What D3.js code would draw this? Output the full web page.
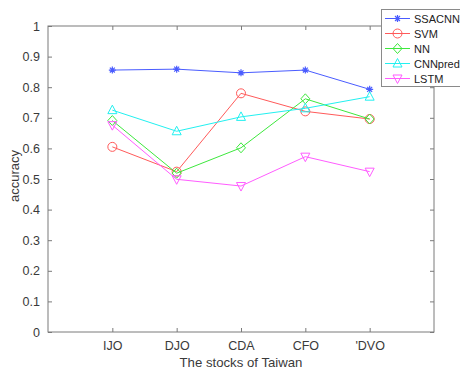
<!DOCTYPE html>
<html><head><meta charset="utf-8">
<script src="https://cdn.jsdelivr.net/npm/d3@7"></script>
<style>body{margin:0;background:#fff;}svg{display:block;font-family:"Liberation Sans",Arial,sans-serif;}</style>
</head><body>
<svg id="c" width="460" height="371"></svg>
<script>
const categories = ["IJO", "DJO", "CDA", "CFO", "'DVO"];
const seriesNames = ["SSACNN", "SVM", "NN", "CNNpred", "LSTM"];
const SSACNN = [0.856, 0.859, 0.847, 0.856, 0.793];
const SVM = [0.605, 0.524, 0.780, 0.721, 0.696];
const NN = [0.691, 0.519, 0.602, 0.762, 0.696];
const CNNpred = [0.725, 0.656, 0.703, 0.731, 0.769];
const LSTM = [0.676, 0.499, 0.477, 0.573, 0.524];
const yTicks = [0, 0.1, 0.2, 0.3, 0.4, 0.5, 0.6, 0.7, 0.8, 0.9, 1];

const series = [
  {name: seriesNames[0], values: SSACNN, color: "#4a5cff", marker: "star"},
  {name: seriesNames[1], values: SVM, color: "#ff5a5a", marker: "circle"},
  {name: seriesNames[2], values: NN, color: "#3de83d", marker: "diamond"},
  {name: seriesNames[3], values: CNNpred, color: "#22f0f0", marker: "triUp"},
  {name: seriesNames[4], values: LSTM, color: "#ff5cff", marker: "triDown"}
];

const svg = d3.select("#c");
const L = 48, R = 434, T = 26, B = 332;
const x = d3.scaleLinear().domain([0, 6]).range([L, R]);
const y = d3.scaleLinear().domain([0, 1]).range([B, T]);
const axisColor = "#7a7a7a";
const textColor = "#3a3a3a";

svg.append("rect").attr("x", L).attr("y", T).attr("width", R - L).attr("height", B - T)
  .attr("fill", "none").attr("stroke", axisColor).attr("stroke-width", 1);

const xt = categories.map((c, i) => i + 1);
const gx = svg.append("g").attr("transform", `translate(0,${B})`)
  .call(d3.axisBottom(x).tickValues(xt).tickFormat((d) => categories[d - 1]).tickSizeInner(-4).tickSizeOuter(0).tickPadding(9));
gx.select(".domain").remove();
gx.selectAll("line").attr("stroke", axisColor);
gx.selectAll("text").attr("fill", textColor).attr("font-size", 12.5);
const gxt = svg.append("g").attr("transform", `translate(0,${T})`)
  .call(d3.axisTop(x).tickValues(xt).tickFormat("").tickSizeInner(-4).tickSizeOuter(0));
gxt.select(".domain").remove();
gxt.selectAll("line").attr("stroke", axisColor);
const gy = svg.append("g").attr("transform", `translate(${L},0)`)
  .call(d3.axisLeft(y).tickValues(yTicks).tickFormat(d => d === 0 ? "0" : d === 1 ? "1" : d3.format(".1f")(d)).tickSizeInner(-4).tickSizeOuter(0).tickPadding(8));
gy.select(".domain").remove();
gy.selectAll("line").attr("stroke", axisColor);
gy.selectAll("text").attr("fill", textColor).attr("font-size", 12.5);
const gyr = svg.append("g").attr("transform", `translate(${R},0)`)
  .call(d3.axisRight(y).tickValues(yTicks).tickFormat("").tickSizeInner(-4).tickSizeOuter(0));
gyr.select(".domain").remove();
gyr.selectAll("line").attr("stroke", axisColor);

svg.append("text").attr("x", (L + R) / 2).attr("y", 367).attr("text-anchor", "middle")
  .attr("font-size", 13.2).attr("fill", textColor).text("The stocks of Taiwan");
svg.append("text").attr("transform", `translate(19,176) rotate(-90)`).attr("text-anchor", "middle")
  .attr("font-size", 13).attr("fill", textColor).text("accuracy");

function drawMarker(g, type, cx, cy, color) {
  const s = 4.5;
  if (type === "circle") {
    g.append("circle").attr("cx", cx).attr("cy", cy).attr("r", s).attr("fill", "none").attr("stroke", color);
  } else if (type === "diamond") {
    g.append("path").attr("d", `M${cx},${cy - s - 0.5}L${cx + s},${cy}L${cx},${cy + s + 0.5}L${cx - s},${cy}Z`).attr("fill", "none").attr("stroke", color);
  } else if (type === "triUp") {
    g.append("path").attr("d", `M${cx},${cy - s - 0.5}L${cx + s},${cy + s - 1}L${cx - s},${cy + s - 1}Z`).attr("fill", "none").attr("stroke", color);
  } else if (type === "triDown") {
    g.append("path").attr("d", `M${cx},${cy + s + 0.5}L${cx + s},${cy - s + 1}L${cx - s},${cy - s + 1}Z`).attr("fill", "none").attr("stroke", color);
  } else if (type === "star") {
    const r = 3.5;
    let d = "";
    for (let k = 0; k < 4; k++) {
      const a = k * Math.PI / 4;
      d += `M${cx - r * Math.cos(a)},${cy - r * Math.sin(a)}L${cx + r * Math.cos(a)},${cy + r * Math.sin(a)}`;
    }
    g.append("path").attr("d", d).attr("stroke", color).attr("stroke-width", 1.2);
  }
}

const line = d3.line().x((d, i) => x(i + 1)).y(d => y(d));
series.forEach(s => {
  const g = svg.append("g");
  g.append("path").datum(s.values).attr("d", line).attr("fill", "none").attr("stroke", s.color).attr("stroke-width", 1);
  s.values.forEach((v, i) => drawMarker(g, s.marker, x(i + 1), y(v), s.color));
});

const lg = svg.append("g");
lg.append("rect").attr("x", 381.5).attr("y", 9.5).attr("width", 90).attr("height", 77)
  .attr("fill", "#fff").attr("stroke", "#8a8a8a");
series.forEach((s, i) => {
  const ly = 18.5 + i * 15;
  lg.append("line").attr("x1", 385).attr("x2", 410).attr("y1", ly).attr("y2", ly).attr("stroke", s.color);
  drawMarker(lg, s.marker, 397.5, ly, s.color);
  lg.append("text").attr("x", 414).attr("y", ly + 4).attr("font-size", 11).attr("fill", "#222").text(s.name);
});
</script>
</body></html>
